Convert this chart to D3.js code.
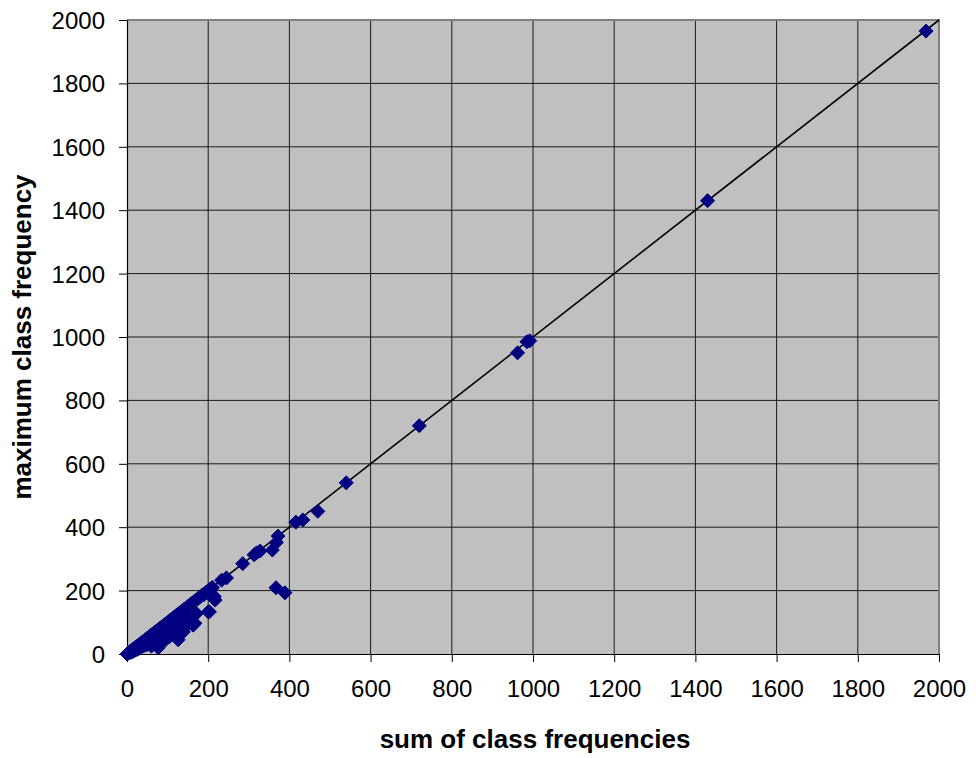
<!DOCTYPE html>
<html>
<head>
<meta charset="utf-8">
<script src="https://cdn.jsdelivr.net/npm/d3@7"></script>
<style>
  html, body { margin: 0; padding: 0; background: #fff; }
  svg { display: block; font-family: "Liberation Sans", Arial, sans-serif; }
</style>
</head>
<body>
<svg id="chart" width="976" height="758"></svg>
<script>
// Sum of class frequencies (x) against the largest single class frequency (y)
const sumFreq = [
  0, 1, 2, 3, 5, 7, 10, 12, 15, 18, 20, 25, 30, 35, 40, 45, 50, 55, 60, 65,
  70, 75, 80, 85, 90, 95, 100, 105, 110, 115, 120, 125, 130, 135, 140, 145, 150, 155, 160, 165,
  170, 175, 180, 185, 190, 195, 200, 205, 210,
  10, 15, 20, 25, 30, 35, 40, 45, 50, 55, 60, 65, 70, 75, 77, 80, 85, 90, 95, 100,
  105, 110, 115, 120, 126, 130, 131, 139, 143, 145, 150, 151, 159, 163, 167, 171, 190, 200, 203, 212,
  215, 217, 208,
  233, 245, 285, 313, 319, 328, 358, 368, 372, 367, 389, 416, 433, 470, 540, 720, 962, 985, 992, 1430, 1968
];
const maxFreq = [
  0, 1, 2, 3, 5, 7, 10, 12, 15, 18, 20, 25, 30, 35, 40, 45, 50, 55, 60, 65,
  70, 75, 80, 85, 90, 95, 100, 105, 110, 115, 120, 125, 130, 135, 140, 145, 150, 155, 160, 165,
  170, 175, 180, 185, 190, 195, 200, 205, 210,
  5, 8, 12, 14, 18, 22, 25, 28, 30, 35, 25, 40, 30, 45, 20, 50, 40, 60, 45, 70,
  55, 75, 60, 85, 45, 90, 113, 70, 86, 110, 120, 118, 102, 91, 97, 128, 188, 133, 133, 177,
  181, 170, 205,
  233, 240, 285, 313, 319, 325, 328, 352, 372, 209, 193, 416, 423, 450, 540, 720, 950, 985, 988, 1430, 1965
];
const xTicks = [0, 200, 400, 600, 800, 1000, 1200, 1400, 1600, 1800, 2000];
const yTicks = [0, 200, 400, 600, 800, 1000, 1200, 1400, 1600, 1800, 2000];
const xTitle = "sum of class frequencies";
const yTitle = "maximum class frequency";

const points = sumFreq.map((s, i) => ({ s, m: maxFreq[i] }));

const svg = d3.select("#chart");
const plotL = 127, plotR = 939, plotT = 20, plotB = 654;

const x = d3.scaleLinear().domain([0, 2000]).range([plotL, plotR]);
const y = d3.scaleLinear().domain([0, 2000]).range([plotB, plotT]);

// plot area
svg.append("rect")
  .attr("x", plotL).attr("y", plotT)
  .attr("width", plotR - plotL).attr("height", plotB - plotT)
  .attr("fill", "#c0c0c0");

// gridlines
svg.append("g").selectAll("line").data(xTicks.slice(1, -1)).join("line")
  .attr("x1", d => x(d)).attr("x2", d => x(d))
  .attr("y1", plotT).attr("y2", plotB)
  .attr("stroke", "#1a1a1a").attr("stroke-width", 1);
svg.append("g").selectAll("line").data(yTicks.slice(1, -1)).join("line")
  .attr("x1", plotL).attr("x2", plotR)
  .attr("y1", d => y(d)).attr("y2", d => y(d))
  .attr("stroke", "#1a1a1a").attr("stroke-width", 1);

// top and right frame
svg.append("path")
  .attr("d", `M${plotL},${plotT}H${plotR}V${plotB}`)
  .attr("fill", "none").attr("stroke", "#808080").attr("stroke-width", 2);

// axes
const fmt = d3.format("d");
const xAxis = d3.axisBottom(x).tickValues(xTicks).tickFormat(fmt).tickSize(8).tickPadding(12).tickSizeOuter(0);
const yAxis = d3.axisLeft(y).tickValues(yTicks).tickFormat(fmt).tickSize(8).tickPadding(14).tickSizeOuter(0);

const gx = svg.append("g").attr("transform", `translate(0,${plotB})`).call(xAxis);
const gy = svg.append("g").attr("transform", `translate(${plotL},0)`).call(yAxis);
[gx, gy].forEach(g => {
  g.select(".domain").attr("stroke", "#000").attr("stroke-width", 1.2);
  g.selectAll(".tick line").attr("stroke", "#000").attr("stroke-width", 1);
  g.selectAll(".tick text")
    .attr("fill", "#000")
    .style("font-family", "'Liberation Sans', Arial, sans-serif")
    .style("font-size", "24px");
});
gx.selectAll(".tick text").attr("dy", "0.95em");
gy.selectAll(".tick text").attr("dy", "0.35em");

// reference line y = x
svg.append("line")
  .attr("x1", x(0)).attr("y1", y(0))
  .attr("x2", x(2000)).attr("y2", y(2000))
  .attr("stroke", "#000").attr("stroke-width", 1.6);

// markers
const diamond = d3.symbol().type(d3.symbolDiamond2).size(125);
svg.append("g").selectAll("path").data(points).join("path")
  .attr("d", diamond)
  .attr("transform", d => `translate(${x(d.s)},${y(d.m)})`)
  .attr("fill", "#000080")
  .attr("stroke", "#000080").attr("stroke-width", 1);

// axis titles
svg.append("text")
  .attr("x", (plotL + plotR) / 2 + 2).attr("y", 748)
  .attr("text-anchor", "middle")
  .style("font-weight", "bold").style("font-size", "26px")
  .text(xTitle);
svg.append("text")
  .attr("transform", `translate(31,${(plotT + plotB) / 2}) rotate(-90)`)
  .attr("text-anchor", "middle")
  .style("font-weight", "bold").style("font-size", "26px")
  .text(yTitle);
</script>
</body>
</html>
